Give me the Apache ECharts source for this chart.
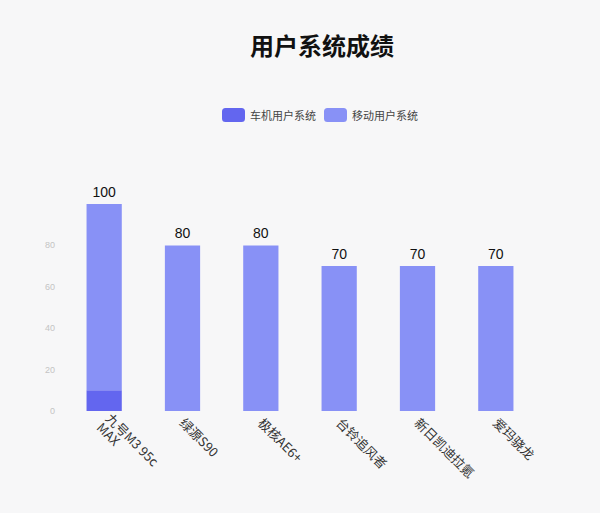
<!DOCTYPE html>
<html>
<head>
<meta charset="utf-8">
<script src="https://cdn.jsdelivr.net/npm/echarts@6/dist/echarts.min.js"></script>
<style>
  html, body { margin: 0; padding: 0; background: #f7f7f8; }
  #chart { width: 600px; height: 513px; }
</style>
</head>
<body>
<div id="chart"></div>
<script>
var categories = ['九号M3 95c\nMAX', '绿源S90', '极核AE6+', '台铃追风者', '新日凯迪拉氪', '爱玛骁龙'];
var carValues = [10, 0, 0, 0, 0, 0];
var mobileValues = [90, 80, 80, 70, 70, 70];
var yTicks = [0, 20, 40, 60, 80, 100];

var totals = categories.map(function(_, i) { return carValues[i] + mobileValues[i]; });

var chart = echarts.init(document.getElementById('chart'), null, { renderer: 'svg' });
chart.setOption({
  animation: false,
  backgroundColor: '#f7f7f8',
  title: {
    text: '用户系统成绩',
    left: 245,
    top: 27,
    textStyle: { fontSize: 24, fontWeight: 'bold', color: '#111', fontFamily: 'Noto Sans CJK SC' }
  },
  legend: {
    top: 103,
    left: 217,
    itemWidth: 23,
    itemHeight: 14,
    itemGap: 8,
    icon: 'roundRect',
    textStyle: { fontSize: 11, color: '#444', fontFamily: 'Noto Sans CJK SC' },
    data: ['车机用户系统', '移动用户系统']
  },
  grid: { left: 65, right: 65, top: 204, bottom: 102 },
  xAxis: {
    type: 'category',
    data: categories,
    axisLine: { show: false },
    axisTick: { show: false },
    axisLabel: {
      rotate: -45,
      interval: 0,
      margin: 9,
      fontSize: 13,
      color: '#333',
      lineHeight: 13,
      fontFamily: 'Noto Sans CJK SC'
    }
  },
  yAxis: {
    type: 'value',
    min: yTicks[0],
    max: yTicks[yTicks.length - 1],
    interval: 20,
    axisLine: { show: false },
    axisTick: { show: false },
    splitLine: { show: false },
    axisLabel: { color: '#c4c4c4', fontSize: 9, showMaxLabel: false, margin: 10 }
  },
  series: [
    {
      name: '车机用户系统',
      type: 'bar',
      stack: 'total',
      barWidth: '45%',
      color: '#6366ef',
      data: carValues
    },
    {
      name: '移动用户系统',
      type: 'bar',
      stack: 'total',
      barWidth: '45%',
      color: '#8891f6',
      data: mobileValues,
      label: {
        show: true,
        position: 'top',
        distance: 5,
        color: '#111',
        fontSize: 14,
        formatter: function(p) { return totals[p.dataIndex]; }
      }
    }
  ]
});
</script>
</body>
</html>
